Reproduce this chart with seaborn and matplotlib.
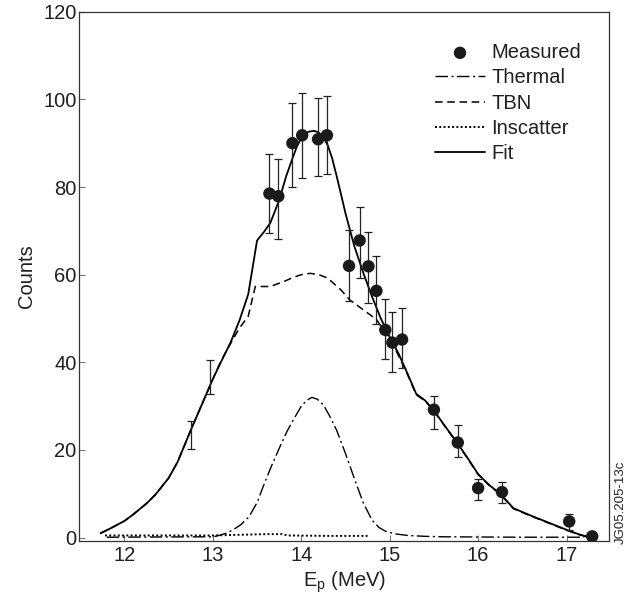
import matplotlib
matplotlib.use("Agg")
import matplotlib.pyplot as plt
import seaborn as sns
import numpy as np

# --- Data ---
# measured spectrum (proton energy in MeV, counts, error bar low / high)
meas_e = [13.64, 13.74, 13.90, 14.01, 14.19, 14.29, 14.54, 14.66, 14.76, 14.85,
          14.95, 15.03, 15.14, 15.50, 15.77, 16.00, 16.27, 17.03, 17.29]
meas_counts = [78.5, 77.9, 90.0, 91.8, 90.9, 91.8, 62.0, 67.8, 61.9, 56.3,
               47.4, 44.5, 45.2, 29.2, 21.7, 11.3, 10.4, 3.7, 0.3]
meas_lo = [69.6, 68.2, 80.0, 82.1, 82.5, 83.0, 54.0, 59.2, 53.5, 48.8,
           40.8, 37.7, 38.8, 24.9, 18.5, 8.6, 7.9, 1.8, 0.3]
meas_hi = [87.6, 86.4, 99.2, 101.5, 100.3, 100.8, 70.3, 75.4, 69.8, 64.2,
           54.5, 51.5, 52.5, 32.3, 25.8, 13.3, 12.6, 5.5, 0.3]

# two low-energy bins shown with error bars only
bar_e = [12.75, 12.97]
bar_lo = [20.2, 32.8]
bar_hi = [26.5, 40.6]

fit_e = [11.73, 11.85, 12.0, 12.1, 12.25, 12.35, 12.5, 12.6, 12.75, 12.9, 13.0,
         13.1, 13.2, 13.3, 13.4, 13.5, 13.58, 13.65, 13.75, 13.83, 13.9, 13.95, 14.0,
         14.05, 14.1, 14.15, 14.2, 14.25, 14.3, 14.35, 14.4, 14.45, 14.5, 14.6, 14.7,
         14.8, 14.9, 15.0, 15.1, 15.2, 15.3, 15.4, 15.5, 15.62, 15.75, 15.88, 16.0,
         16.12, 16.25, 16.4, 16.6, 16.75, 16.9, 17.0, 17.12, 17.25]
fit_counts = [1.0, 2.2, 3.8, 5.3, 7.8, 9.8, 13.6, 17.2, 24.5, 31.5, 36.2,
              40.4, 44.5, 49.5, 55.5, 67.8, 69.8, 71.8, 77.0, 82.5, 86.5, 89.2, 91.2,
              92.3, 92.7, 92.8, 92.4, 91.3, 89.5, 86.5, 82.5, 78.3, 74.0, 66.5, 60.5,
              55.0, 50.0, 45.8, 42.0, 37.5, 32.8, 31.3, 29.0, 25.6, 22.0, 18.2, 14.5,
              12.1, 10.0, 6.7, 5.0, 3.8, 2.6, 1.8, 0.9, 0.1]

tbn_e = [11.73, 11.85, 12.0, 12.1, 12.25, 12.35, 12.5, 12.6, 12.75, 12.9, 13.0,
         13.08, 13.15, 13.3, 13.4, 13.48, 13.65, 13.8, 13.9, 14.0, 14.1, 14.2, 14.3,
         14.45, 14.55, 14.7, 14.85, 15.05, 15.2, 15.3, 15.4, 15.5, 15.62, 15.75,
         15.88, 16.0, 16.12, 16.25, 16.4, 16.6, 16.75, 16.9, 17.0, 17.12, 17.25]
tbn_counts = [1.0, 2.2, 3.8, 5.3, 7.8, 9.8, 13.6, 17.2, 24.5, 31.5, 36.2,
              39.8, 42.5, 47.8, 50.5, 57.3, 57.3, 58.4, 59.3, 60.0, 60.3, 60.0, 59.2,
              56.5, 54.2, 52.0, 49.8, 43.6, 37.3, 32.6, 31.2, 28.9, 25.5, 21.9,
              18.1, 14.4, 12.0, 9.9, 6.6, 4.9, 3.7, 2.5, 1.7, 0.8, 0.1]

thermal_e = [11.8, 13.0, 13.05, 13.15, 13.23, 13.32, 13.41, 13.5, 13.57, 13.66,
             13.76, 13.84, 13.9, 13.96, 14.0, 14.06, 14.12, 14.18, 14.25, 14.32,
             14.4, 14.5, 14.6, 14.7, 14.8, 14.88, 14.95, 15.05, 15.2, 15.4, 15.6,
             16.0, 16.5, 17.2]
thermal_counts = [0.1, 0.2, 0.4, 1.0, 1.8, 3.0, 4.8, 8.0, 11.7, 16.2,
                  20.8, 24.3, 26.5, 28.6, 30.0, 31.3, 32.0, 31.6, 30.3, 27.8,
                  24.5, 19.2, 13.5, 8.0, 4.0, 2.3, 1.5, 0.9, 0.5, 0.3, 0.2,
                  0.15, 0.1, 0.1]

inscatter_e = [11.78, 12.5, 13.0, 13.4, 13.6, 13.78, 13.85, 14.3, 14.75]
inscatter_counts = [0.5, 0.5, 0.5, 0.7, 0.8, 0.8, 0.5, 0.4, 0.4]

# --- Style ---
sns.set_theme(style="ticks")
plt.rcParams["font.family"] = ["Liberation Sans", "DejaVu Sans"]
plt.rcParams["mathtext.fontset"] = "custom"
plt.rcParams["mathtext.rm"] = "Liberation Sans"
plt.rcParams["mathtext.it"] = "Liberation Sans:italic"
TXT = "#231f20"
FS = 14.5

fig = plt.figure(figsize=(6.32, 5.99), dpi=100)
ax = fig.add_axes([0.1255, 0.0973, 0.9636 - 0.1255, 0.9805 - 0.0973])

# model curves
sns.lineplot(x=thermal_e, y=thermal_counts, ax=ax, color="black", lw=1.0,
             linestyle=(0, (9, 2.5, 1.5, 2.5)), label="Thermal", sort=False, estimator=None)
sns.lineplot(x=tbn_e, y=tbn_counts, ax=ax, color="black", lw=1.1,
             linestyle=(0, (5, 3)), label="TBN", sort=False, estimator=None)
sns.lineplot(x=inscatter_e, y=inscatter_counts, ax=ax, color="black", lw=1.4,
             linestyle=(0, (1, 1.2)), label="Inscatter", sort=False, estimator=None)
sns.lineplot(x=fit_e, y=fit_counts, ax=ax, color="black", lw=1.3,
             label="Fit", sort=False, estimator=None)

# error bars
yerr = [np.array(meas_counts) - np.array(meas_lo), np.array(meas_hi) - np.array(meas_counts)]
ax.errorbar(meas_e, meas_counts, yerr=yerr, fmt="none", ecolor="#222222",
            elinewidth=0.9, capsize=3.0, capthick=0.9, zorder=3)
bar_mid = [(lo + hi) / 2 for lo, hi in zip(bar_lo, bar_hi)]
bar_err = [(hi - lo) / 2 for lo, hi in zip(bar_lo, bar_hi)]
ax.errorbar(bar_e, bar_mid, yerr=bar_err, fmt="none", ecolor="#222222",
            elinewidth=0.9, capsize=3.0, capthick=0.9, zorder=3)

# measured points
sns.scatterplot(x=meas_e, y=meas_counts, ax=ax, color="#1a1a1a", s=80,
                edgecolor="none", label="Measured", zorder=4)

ax.set_xlim(11.49, 17.48)
ax.set_ylim(-0.7, 120)
ax.set_xticks([12, 13, 14, 15, 16, 17])
ax.set_yticks([0, 20, 40, 60, 80, 100, 120])
ax.tick_params(direction="in", length=4, width=0.8, color="#777777",
               labelsize=FS, labelcolor=TXT)
ax.tick_params(axis="x", pad=4)
ax.tick_params(axis="y", pad=2)
for s in ax.spines.values():
    s.set_color("#333333")
    s.set_linewidth(0.9)
    s.set_visible(True)

ax.set_xlabel(r"E$_\mathrm{p}$ (MeV)", fontsize=FS, color=TXT, labelpad=3)
ax.set_ylabel("Counts", fontsize=FS, color=TXT, labelpad=5)

# legend in the order of the reference
handles, labels = ax.get_legend_handles_labels()
order = ["Measured", "Thermal", "TBN", "Inscatter", "Fit"]
hmap = dict(zip(labels, handles))
leg = ax.legend([hmap[k] for k in order], order, loc="upper left",
                bbox_to_anchor=(0.688, 0.928), bbox_transform=fig.transFigure,
                frameon=False, fontsize=FS, handlelength=2.5, handletextpad=0.3,
                labelspacing=0.31, borderpad=0, borderaxespad=0, markerscale=1.0)
for t in leg.get_texts():
    t.set_color(TXT)

fig.text(0.983, 0.092, "JG05.205-13c", rotation=90, fontsize=9.5, color=TXT,
         ha="center", va="bottom")

fig.savefig("out.png", dpi=100)
